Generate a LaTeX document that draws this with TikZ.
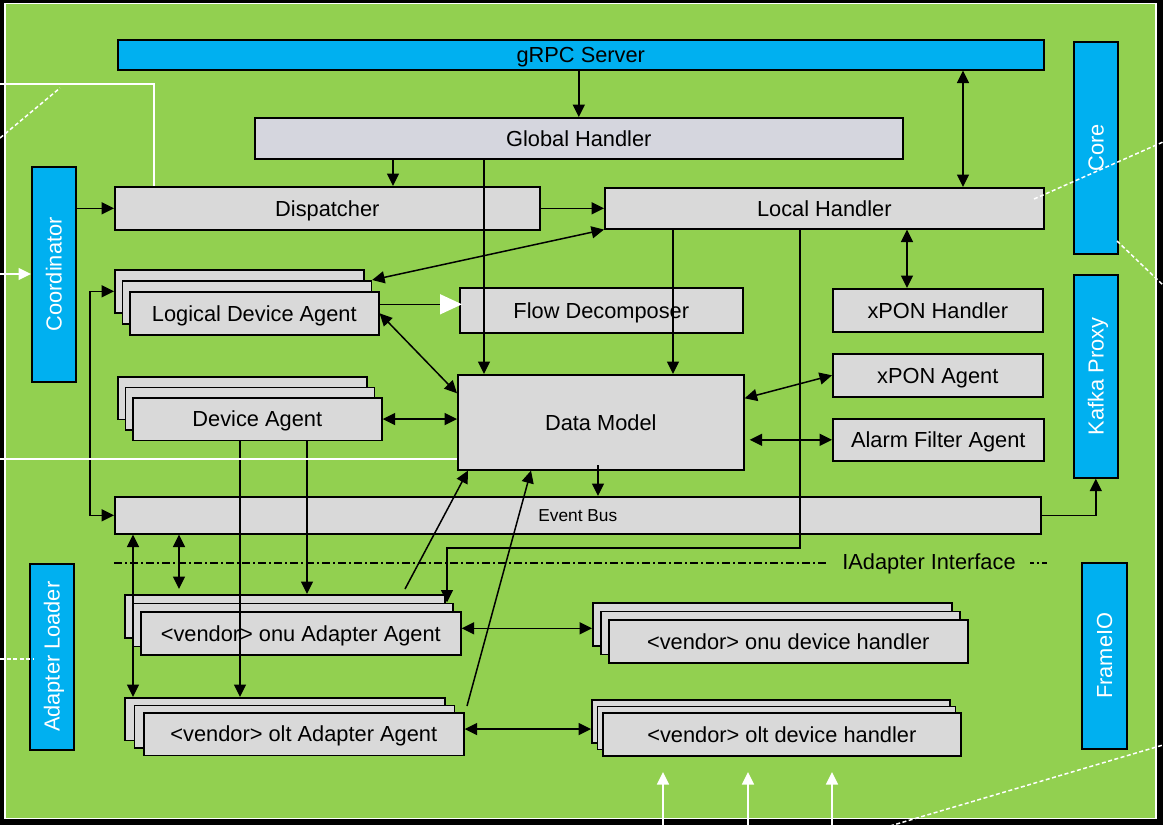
\documentclass[tikz,border=0pt]{standalone}
\usepackage{fontspec}
\setmainfont{Liberation Sans}
\usetikzlibrary{arrows.meta,calc}

\definecolor{slidegreen}{RGB}{146,208,80}
\definecolor{compblue}{RGB}{0,176,240}
\definecolor{compgray}{RGB}{217,217,217}
\definecolor{handlergray}{RGB}{213,214,222}

\tikzset{
  labelfont/.style={font=\fontsize{21.8}{24}\selectfont},
  capcentred/.style={text height=15.6pt, text depth=0pt},
  gbox/.style={draw=black, line width=1.6pt, fill=compgray, inner sep=0pt,
               labelfont, capcentred, text=black, anchor=north west},
  bbox/.style={draw=black, line width=1.6pt, fill=compblue, inner sep=0pt,
               labelfont, text=white, anchor=north west},
  conn/.style={draw=black, line width=1.5pt},
  arr/.style={conn, -{Triangle[length=12.5pt,width=12pt]}},
  darr/.style={conn, {Triangle[length=12.5pt,width=12pt]}-{Triangle[length=12.5pt,width=12pt]}},
  wline/.style={draw=white, line width=1.5pt},
  wdash/.style={wline, dash pattern=on 4pt off 2.5pt},
  warr/.style={wline, -{Triangle[length=12.5pt,width=12pt]}},
  bigwhitearr/.style={conn, -{Triangle[length=22pt,width=20pt,color=white]}},
  ifline/.style={draw=black, line width=1.3pt, dash pattern=on 8pt off 3pt on 2pt off 3pt},
}

% vertical label, centred on the capital height
\newcommand\vlabel[1]{\rotatebox{90}{\raisebox{0pt}[15.6pt][0pt]{#1}}}

% three stacked copies of a box: name, x, y (top-left of the back copy),
% width, height, x-offset, y-offset, label of the front copy
\newcommand\threelayer[8]{%
  \node[gbox, minimum width=#4pt, minimum height=#5pt] (#1-b) at (#2,#3) {};
  \node[gbox, minimum width=#4pt, minimum height=#5pt] (#1-m) at ({#2+#6},{#3+#7}) {};
  \node[gbox, minimum width=#4pt, minimum height=#5pt] (#1) at ({#2+2*#6},{#3+2*#7}) {#8};
}

\begin{document}
\begin{tikzpicture}[x=1pt, y=-1pt]
  \useasboundingbox (0,0) rectangle (1163,825);
  \fill[black] (0,0) rectangle (1163,825);
  \draw[white, line width=1.5pt, fill=slidegreen] (5,3.5) rectangle (1156,818.5);

  % blue side components
  \node[bbox, capcentred, text=black, minimum width=926pt, minimum height=30pt] (grpc) at (117,39) {gRPC Server};
  \node[bbox, minimum width=44pt, minimum height=215pt] (coord) at (31,166) {\vlabel{Coordinator}};
  \node[bbox, minimum width=44pt, minimum height=212pt] (core) at (1073,41) {\vlabel{Core}};
  \node[bbox, minimum width=44pt, minimum height=203pt] (kafka) at (1073,274) {\vlabel{Kafka Proxy}};
  \node[bbox, minimum width=44pt, minimum height=186pt] (loader) at (29,563) {\vlabel{Adapter Loader}};
  \node[bbox, minimum width=45pt, minimum height=186pt] (frameio) at (1081,562) {\vlabel{FrameIO}};

  % core handlers and agents
  \node[gbox, fill=handlergray, minimum width=648pt, minimum height=41pt] (global) at (254,117) {Global Handler};
  \node[gbox, minimum width=425pt, minimum height=43pt] (disp) at (114,186) {Dispatcher};
  \node[gbox, minimum width=439pt, minimum height=41pt] (local) at (604,187) {Local Handler};
  \node[gbox, minimum width=283pt, minimum height=45pt] (flow) at (459,287) {Flow Decomposer};
  \node[gbox, minimum width=210pt, minimum height=43pt] (xponh) at (832,288) {xPON Handler};
  \node[gbox, minimum width=210pt, minimum height=43pt] (xpona) at (832,353) {xPON Agent};
  \node[gbox, minimum width=211pt, minimum height=42pt] (alarm) at (832,418) {Alarm Filter Agent};
  \node[gbox, minimum width=286pt, minimum height=95pt] (dm) at (457,374) {Data Model};
  \node[gbox, minimum width=926pt, minimum height=37pt, font=\fontsize{17.3}{20}\selectfont,
        text height=12.4pt] (bus) at (114,496) {Event Bus};

  \threelayer{lda}{114}{269}{249}{43}{7.5}{11}{Logical Device Agent}
  \threelayer{da}{117}{376}{249}{42.5}{7.5}{10.5}{Device Agent}
  \threelayer{onu}{124}{594}{320}{43}{8}{8.5}{<vendor> onu Adapter Agent}
  \threelayer{olt}{124}{697}{320}{42.5}{9.5}{7.5}{<vendor> olt Adapter Agent}
  \threelayer{onuh}{592}{602}{359}{43}{8}{8.5}{<vendor> onu device handler}
  \threelayer{olth}{591}{699}{358}{43}{5.5}{6.5}{<vendor> olt device handler}

  % adapter interface boundary
  \coordinate (ifl) at (114,563);
  \coordinate (ifr) at (1047,563);
  \draw[ifline] (ifl) -- (ifr);
  \node[fill=slidegreen, inner xsep=14pt, inner ysep=2pt, labelfont, capcentred, text=black] (iface) at (929,562) {IAdapter Interface};

  % connectors
  \draw[arr] (grpc.south -| global.north) -- (global.north);
  \draw[darr] (963,0 |- grpc.south) -- (963,0 |- local.north);
  \draw[arr] (393,0 |- global.south) -- (393,0 |- disp.north);
  \draw[arr] (484,0 |- global.south) -- (484,0 |- dm.north);
  \draw[arr] (disp.east) -- (local.west);
  \draw[arr] (coord.east |- disp.west) -- (disp.west);
  \draw[darr] (local.south west) -- (lda-m.north east);
  \draw[arr] (673,0 |- local.south) -- (673,0 |- dm.north);
  \draw[arr] (800,0 |- local.south) -- (800,548) -- (447,548) -- (447,0 |- onu-m.north);
  \coordinate (ldaout) at ([yshift=9pt]lda.east);
  \draw[bigwhitearr] (ldaout) -- ([xshift=3pt]ldaout -| flow.west);
  \draw[darr] (lda.east) -- ([yshift=29pt]dm.west);
  \draw[darr] (da.east) -- (da.east -| dm.west);
  \draw[darr] ([yshift=24pt]dm.east) -- (xpona.west);
  \draw[darr, shorten <=5pt] (alarm.west -| dm.east) -- (alarm.west);
  \draw[darr] (907,0 |- local.south) -- (907,0 |- xponh.north);
  \coordinate (dmout) at (598,465);
  \draw[arr] (dmout) -- (dmout |- bus.north);
  \draw[arr] (bus.east) -| (kafka.south);
  \draw[darr] (lda-b.west) -- (90,0 |- lda-b.west) |- (bus.west);
  \draw[darr] (133,0 |- bus.south) -- (133,0 |- olt-b.north);
  \draw[darr, shorten >=5pt] (179,0 |- bus.south) -- (179,0 |- onu-b.north);
  \draw[arr] (307,0 |- da.south) -- (307,0 |- onu-b.north);
  \draw[arr] (240,0 |- da.south) -- (240,0 |- olt-b.north);
  \coordinate (onutail) at (405,589);
  \draw[arr] (onutail) -- (468,0 |- dm.south);
  \coordinate (olttail) at (467,706);
  \draw[arr] (olttail) -- (531,0 |- dm.south);
  \coordinate (onulink) at ([yshift=5pt]onu.east);
  \draw[darr] (onulink) -- (onulink -| onuh-b.west);
  \coordinate (oltlink) at ([yshift=5pt]olt.east);
  \draw[darr] (oltlink) -- (oltlink -| olth-b.west);

  % links leaving the frame
  \coordinate (wa) at (0,84);
  \draw[wline] (wa) -- (154,84) -- (154,0 |- disp.north);
  \coordinate (wb1) at (0,138);
  \coordinate (wb2) at (60,88);
  \draw[wdash] (wb1) -- (wb2);
  \coordinate (wc) at (0,274);
  \draw[warr] (wc) -- (wc -| coord.west);
  \coordinate (wd) at (0,459);
  \draw[wline] (wd) -- (wd -| dm.west);
  \coordinate (we) at (0,659);
  \draw[wdash] (we) -- ([xshift=4pt]we -| loader.west);
  \coordinate (wf1) at (1034,199);
  \coordinate (wf2) at (1163,142);
  \draw[wdash] (wf1) -- (wf2);
  \coordinate (wg1) at (1117,241);
  \coordinate (wg2) at (1163,285);
  \draw[wdash] (wg1) -- (wg2);
  \coordinate (wh1) at (890,826);
  \coordinate (wh2) at (1163,745);
  \draw[wdash] (wh1) -- (wh2);
  \foreach \xx/\nm in {663/p1,748/p2,832/p3}{
    \coordinate (\nm) at (\xx,826);
    \draw[warr] (\nm) -- (\xx,772);
  }
\end{tikzpicture}
\end{document}
